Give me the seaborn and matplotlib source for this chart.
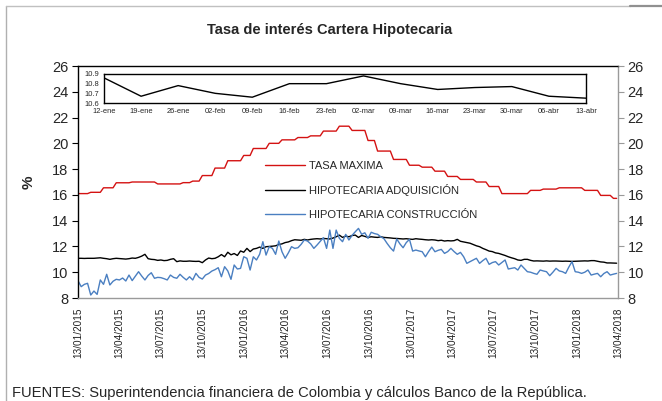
import matplotlib
matplotlib.use("Agg")
import matplotlib.pyplot as plt
import matplotlib.lines as mlines
import seaborn as sns
import pandas as pd

# ---------------- data ----------------
start_date = "2015-01-13"
tasa_maxima = [
    16.10, 16.10, 16.10, 16.10, 16.20, 16.20, 16.20, 16.20, 16.55, 16.55,
    16.55, 16.55, 16.94, 16.94, 16.94, 16.94, 16.94, 17.00, 17.00, 17.00,
    17.00, 17.00, 17.00, 17.00, 17.00, 16.85, 16.85, 16.85, 16.85, 16.85,
    16.85, 16.85, 16.85, 16.95, 16.95, 16.95, 17.07, 17.07, 17.07, 17.50,
    17.50, 17.50, 17.50, 18.08, 18.08, 18.08, 18.08, 18.65, 18.65, 18.65,
    18.65, 18.65, 19.06, 19.06, 19.06, 19.60, 19.60, 19.60, 19.60, 19.60,
    20.00, 20.00, 20.00, 20.00, 20.27, 20.27, 20.27, 20.27, 20.27, 20.45,
    20.45, 20.45, 20.45, 20.58, 20.58, 20.58, 20.58, 20.95, 20.95, 20.95,
    20.95, 20.95, 21.33, 21.33, 21.33, 21.33, 21.00, 21.00, 21.00, 21.00,
    21.00, 20.22, 20.22, 20.22, 19.40, 19.40, 19.40, 19.40, 19.40, 18.75,
    18.75, 18.75, 18.75, 18.75, 18.30, 18.30, 18.30, 18.30, 18.15, 18.15,
    18.15, 18.15, 17.84, 17.84, 17.84, 17.84, 17.43, 17.43, 17.43, 17.43,
    17.20, 17.20, 17.20, 17.20, 17.20, 17.00, 17.00, 17.00, 17.00, 16.65,
    16.65, 16.65, 16.65, 16.10, 16.10, 16.10, 16.10, 16.10, 16.10, 16.10,
    16.10, 16.10, 16.35, 16.35, 16.35, 16.35, 16.45, 16.45, 16.45, 16.45,
    16.45, 16.55, 16.55, 16.55, 16.55, 16.55, 16.55, 16.55, 16.55, 16.35,
    16.35, 16.35, 16.35, 16.35, 15.96, 15.96, 15.96, 15.96, 15.73, 15.73,
]
hip_adquisicion = [
    11.08, 11.08, 11.07, 11.08, 11.08, 11.08, 11.10, 11.12, 11.08, 11.05,
    11.00, 11.05, 11.08, 11.06, 11.04, 11.02, 11.05, 11.10, 11.08, 11.15,
    11.25, 11.39, 11.05, 11.00, 10.98, 10.92, 10.95, 10.90, 10.92, 11.00,
    11.05, 10.82, 10.88, 10.85, 10.85, 10.87, 10.85, 10.84, 10.85, 10.74,
    10.95, 11.10, 11.05, 11.08, 11.20, 11.37, 11.20, 11.55, 11.35, 11.45,
    11.30, 11.65, 11.55, 11.85, 11.60, 11.80, 11.85, 11.95, 11.85, 11.98,
    12.00, 12.02, 12.05, 12.15, 12.20, 12.30, 12.35, 12.45, 12.52, 12.50,
    12.48, 12.55, 12.50, 12.55, 12.58, 12.60, 12.58, 12.62, 12.60, 12.58,
    12.65, 12.75, 12.88, 12.70, 12.80, 12.75, 12.85, 12.88, 12.70, 12.85,
    12.78, 12.70, 12.75, 12.72, 12.70, 12.75, 12.70, 12.68, 12.66, 12.63,
    12.62, 12.60, 12.58, 12.60, 12.57, 12.55, 12.60, 12.57, 12.55, 12.52,
    12.50, 12.52, 12.50, 12.45, 12.48, 12.42, 12.45, 12.43, 12.45, 12.55,
    12.40, 12.35, 12.30, 12.25, 12.15, 12.05, 11.98, 11.85, 11.75, 11.64,
    11.60, 11.50, 11.46, 11.38, 11.30, 11.20, 11.12, 11.05, 10.95, 10.92,
    11.00, 11.00, 10.92, 10.87, 10.88, 10.87, 10.86, 10.88, 10.86, 10.87,
    10.87, 10.86, 10.85, 10.86, 10.85, 10.84, 10.85, 10.86, 10.87, 10.88,
    10.87, 10.90, 10.90, 10.85, 10.80, 10.78, 10.72, 10.72, 10.71, 10.70,
]
hip_construccion = [
    9.34, 8.88, 9.06, 9.14, 8.23, 8.54, 8.28, 9.40, 9.06, 9.84,
    9.01, 9.30, 9.45, 9.40, 9.55, 9.32, 9.78, 9.35, 9.70, 10.04,
    9.70, 9.40, 9.75, 9.96, 9.53, 9.60, 9.58, 9.50, 9.40, 9.78,
    9.60, 9.53, 9.84, 9.60, 9.40, 9.65, 9.40, 9.91, 9.60, 9.47,
    9.78, 9.90, 10.09, 10.20, 10.35, 9.65, 10.43, 10.10, 9.45, 10.56,
    10.25, 10.30, 11.20, 11.08, 10.17, 11.20, 10.95, 11.40, 12.37, 11.33,
    11.98, 11.85, 11.39, 12.42, 11.59, 11.08, 11.50, 11.98, 11.85, 11.90,
    12.16, 12.50, 12.42, 12.20, 11.85, 12.11, 12.40, 12.68, 11.85, 13.27,
    11.85, 13.27, 12.63, 12.37, 12.94, 12.50, 12.86, 13.14, 13.40, 12.94,
    13.06, 12.63, 13.10, 13.00, 12.94, 12.75, 12.60, 12.23, 11.90, 11.64,
    12.58, 12.20, 11.90, 12.30, 12.55, 11.64, 11.72, 11.65, 11.59, 11.20,
    11.60, 11.95, 11.59, 11.70, 11.77, 11.46, 11.60, 11.85, 11.60, 11.39,
    11.54, 11.20, 10.69, 10.82, 10.95, 11.08, 10.69, 10.90, 11.08, 10.61,
    10.75, 10.82, 10.56, 10.75, 10.95, 10.25, 10.30, 10.35, 10.17, 10.56,
    10.30, 10.04, 10.00, 9.91, 9.84, 10.17, 10.10, 10.04, 9.73, 10.00,
    10.30, 10.10, 10.04, 9.91, 10.40, 10.82, 10.04, 10.00, 9.91, 10.00,
    10.17, 9.78, 9.85, 9.91, 9.65, 9.90, 10.04, 9.78, 9.85, 9.91,
]
series_names = ["TASA MAXIMA", "HIPOTECARIA ADQUISICIÓN", "HIPOTECARIA CONSTRUCCIÓN"]
series_colors = ["#d41212", "#000000", "#4a7fc1"]

date_ticks = ["2015-01-13", "2015-04-13", "2015-07-13", "2015-10-13",
              "2016-01-13", "2016-04-13", "2016-07-13", "2016-10-13",
              "2017-01-13", "2017-04-13", "2017-07-13", "2017-10-13",
              "2018-01-13", "2018-04-13"]
y_ticks = [8, 10, 12, 14, 16, 18, 20, 22, 24, 26]

inset_labels = ["12-ene", "19-ene", "26-ene", "02-feb", "09-feb", "16-feb", "23-feb",
                "02-mar", "09-mar", "16-mar", "23-mar", "30-mar", "06-abr", "13-abr"]
inset_values = [10.86, 10.67, 10.78, 10.70, 10.66, 10.80, 10.80,
                10.88, 10.80, 10.74, 10.76, 10.77, 10.67, 10.65]
inset_yticks = [10.6, 10.7, 10.8, 10.9]

title = "Tasa de interés Cartera Hipotecaria"
source = "FUENTES: Superintendencia financiera de Colombia y cálculos Banco de la República."

# ---------------- build ----------------
sns.set_theme(style="white")
plt.rcParams["font.family"] = ["Liberation Sans", "DejaVu Sans"]

dates = pd.date_range(start_date, periods=len(tasa_maxima), freq="7D")
df = pd.DataFrame({
    "fecha": list(dates) * 3,
    "valor": tasa_maxima + hip_adquisicion + hip_construccion,
    "serie": [series_names[0]] * len(dates) + [series_names[1]] * len(dates)
             + [series_names[2]] * len(dates),
})

W, H = 662, 401
fig = plt.figure(figsize=(W / 100, H / 100), dpi=100)
fig.patch.set_facecolor("white")

ax = fig.add_axes([78 / W, 1 - 298 / H, (618 - 78) / W, (298 - 66) / H])
sns.lineplot(data=df, x="fecha", y="valor", hue="serie", hue_order=series_names,
             palette=series_colors, linewidth=1.0, ax=ax, legend=False)

xt = pd.to_datetime(date_ticks)
ax.set_xlim(xt[0], xt[-1])
ax.set_ylim(8, 26)
ax.set_xticks(xt)
ax.set_xticklabels([d.strftime("%d/%m/%Y") for d in xt], rotation=90, fontsize=7.2,
                   color="#222222")
ax.set_yticks(y_ticks)
ax.set_yticklabels([str(v) for v in y_ticks], fontsize=10.5)
ax.set_xlabel("")
ax.set_ylabel("%", fontsize=11, fontweight="bold", labelpad=12)
for s in ["left", "top"]:
    ax.spines[s].set_color("#000000")
    ax.spines[s].set_linewidth(1.0)
for s in ["right", "bottom"]:
    ax.spines[s].set_color("#9a9a9a")
    ax.spines[s].set_linewidth(1.0)
ax.tick_params(axis="y", direction="out", length=4, width=0.8, color="black", pad=3)
ax.tick_params(axis="x", direction="out", length=4, width=0.8, color="#9a9a9a", pad=3)
ax.grid(False)

ax2 = ax.twinx()
ax2.set_ylim(8, 26)
ax2.set_yticks(y_ticks)
ax2.set_yticklabels([str(v) for v in y_ticks], fontsize=10.5)
ax2.tick_params(axis="y", direction="out", length=4, width=0.8, color="#9a9a9a", pad=3)
for s in ax2.spines.values():
    s.set_visible(False)
ax2.grid(False)

# legend
handles = [mlines.Line2D([], [], color=c, linewidth=1.0) for c in series_colors]
fig.legend(handles, series_names, loc="upper left",
           bbox_to_anchor=(265 / W, 1 - 161 / H), bbox_transform=fig.transFigure,
           frameon=False, fontsize=8, handlelength=3.6, handletextpad=0.35,
           labelspacing=1.2, borderpad=0, borderaxespad=0)

# inset
axi = fig.add_axes([104 / W, 1 - 103 / H, (586 - 104) / W, (103 - 74) / H])
sns.lineplot(x=list(range(len(inset_values))), y=inset_values, color="black",
             linewidth=1.0, ax=axi)
axi.set_xlim(0, len(inset_values) - 1)
axi.set_ylim(10.6, 10.9)
axi.set_xticks(list(range(len(inset_labels))))
axi.set_xticklabels(inset_labels, fontsize=5.4)
axi.set_yticks(inset_yticks)
axi.set_yticklabels([f"{v:.1f}" for v in inset_yticks], fontsize=5.4)
axi.tick_params(axis="both", length=2, width=0.6, pad=1.5, direction="out")
for s in axi.spines.values():
    s.set_color("black")
    s.set_linewidth(1.0)
axi.grid(False)

# title & source
fig.text(330 / W, 1 - 30 / H, title, ha="center", va="center", fontsize=10.5,
         fontweight="bold")
fig.text(12 / W, 1 - 393 / H, source, ha="left", va="center", fontsize=10.6)

# outer gray frame lines
fig.add_artist(mlines.Line2D([5.5 / W, 5.5 / W], [0, 1 - 6 / H], color="#b0b0b0",
                             linewidth=1.0, transform=fig.transFigure))
fig.add_artist(mlines.Line2D([5.5 / W, 630 / W], [1 - 6 / H, 1 - 6 / H], color="#c0c0c0",
                             linewidth=1.0, transform=fig.transFigure))
fig.add_artist(mlines.Line2D([630 / W, 1], [1 - 5.5 / H, 1 - 5.5 / H], color="#909090",
                             linewidth=1.6, transform=fig.transFigure))

fig.savefig("out.png", dpi=100, facecolor="white")
